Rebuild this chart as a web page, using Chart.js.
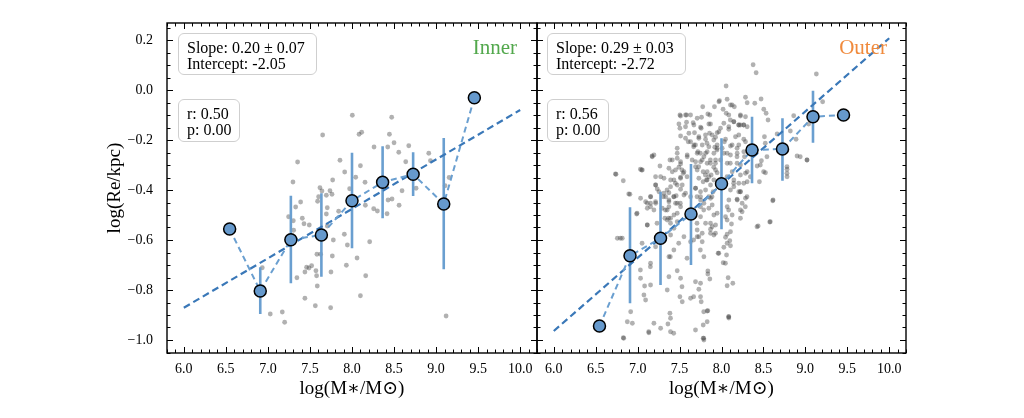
<!DOCTYPE html>
<html>
<head>
<meta charset="utf-8">
<script src="https://cdn.jsdelivr.net/npm/chart.js@4/dist/chart.umd.min.js"></script>
<style>
  html, body { margin:0; padding:0; background:#fff; }
  #wrap { position:relative; width:1024px; height:418px; overflow:hidden; font-family:'Liberation Serif', serif; }
  canvas { position:absolute; left:0; top:0; }
  .box { position:absolute; box-sizing:border-box; border:1px solid #cfcfcf; border-radius:6px; background:rgba(255,255,255,0.85);
         font-size:16px; line-height:16px; padding:6px 0 0 8px; color:#000; white-space:nowrap; z-index:5; }
  .lab { position:absolute; font-size:21px; line-height:24px; z-index:5; white-space:nowrap; }
</style>
</head>
<body>
<div id="wrap">
  <canvas id="cL" width="1024" height="418"></canvas>
  <canvas id="cR" width="1024" height="418"></canvas>
  <div class="box" style="left:178px;top:33px;width:139px;height:42px;">Slope: 0.20 ± 0.07<br>Intercept: -2.05</div>
  <div class="box" style="left:178px;top:99px;width:62px;height:43px;">r: 0.50<br>p: 0.00</div>
  <div class="lab" style="right:507px;top:35px;color:#52a84c;">Inner</div>
  <div class="box" style="left:547px;top:33px;width:139px;height:42px;">Slope: 0.29 ± 0.03<br>Intercept: -2.72</div>
  <div class="box" style="left:547px;top:99px;width:62px;height:43px;">r: 0.56<br>p: 0.00</div>
  <div class="lab" style="right:137px;top:35px;color:#f08a3c;">Outer</div>
</div>
<script>
// ---------- data ----------
const xTicks = [6.0, 6.5, 7.0, 7.5, 8.0, 8.5, 9.0, 9.5, 10.0];
const xTickLabels = ['6.0','6.5','7.0','7.5','8.0','8.5','9.0','9.5','10.0'];
const yTicks = [-1.0, -0.8, -0.6, -0.4, -0.2, 0.0, 0.2];
const yTickLabels = ['\u22121.0','\u22120.8','\u22120.6','\u22120.4','\u22120.2','0.0','0.2'];

const binX = [6.545, 6.909, 7.273, 7.636, 8.0, 8.364, 8.727, 9.091, 9.455];

const innerMed = [-0.556, -0.804, -0.599, -0.580, -0.443, -0.369, -0.337, -0.456, -0.031];
const innerLo  = [null, -0.896, -0.773, -0.747, -0.633, -0.513, -0.424, -0.717, null];
const innerHi  = [null, -0.709, -0.423, -0.413, -0.251, -0.225, -0.249, -0.192, null];

const outerMed = [-0.944, -0.663, -0.593, -0.496, -0.375, -0.240, -0.236, -0.107, -0.100];
const outerLo  = [null, -0.853, -0.780, -0.700, -0.557, -0.373, -0.363, -0.211, null];
const outerHi  = [null, -0.469, -0.407, -0.296, -0.193, -0.107, -0.113, -0.003, null];

const fitX = [6.0, 10.0];
const innerFitY = [-0.871, -0.080];
const outerFitY = [-0.964, 0.207];

const innerScatterX = [8.004,8.472,7.651,8.084,8.115,8.445,8.50,8.262,8.425,8.675,
8.556,8.913,7.353,7.857,7.913,8.10,8.639,8.933,7.298,7.77,
8.044,8.155,7.972,7.619,7.643,7.738,7.762,7.695,7.603,8.595,
8.476,8.429,7.389,7.33,7.706,7.591,8.159,8.56,7.841,8.258,
8.302,8.417,7.695,7.246,7.409,7.302,7.429,7.492,7.306,7.706,
7.909,7.778,7.945,8.21,7.583,7.627,7.766,8.06,7.933,7.46,
7.52,7.488,7.44,7.571,7.579,7.75,7.345,8.163,7.587,8.10,
7.44,7.564,7.746,7.028,7.171,7.199,9.119,6.933,9.107,9.155,
8.762];
const innerScatterY = [-0.101,-0.109,-0.180,-0.177,-0.169,-0.177,-0.211,-0.228,-0.228,-0.223,
-0.249,-0.253,-0.288,-0.281,-0.328,-0.303,-0.287,-0.283,-0.368,-0.36,
-0.349,-0.369,-0.395,-0.391,-0.404,-0.403,-0.417,-0.421,-0.427,-0.403,
-0.436,-0.44,-0.448,-0.468,-0.471,-0.445,-0.461,-0.461,-0.485,-0.475,
-0.484,-0.495,-0.496,-0.507,-0.513,-0.523,-0.535,-0.54,-0.561,-0.544,
-0.577,-0.60,-0.62,-0.607,-0.657,-0.657,-0.664,-0.672,-0.701,-0.709,
-0.703,-0.712,-0.728,-0.723,-0.743,-0.728,-0.751,-0.743,-0.784,-0.823,
-0.833,-0.863,-0.871,-0.896,-0.888,-0.929,-0.904,-0.711,-0.383,-0.35,
-0.393];

const outerScatterX = [
8.055,7.976,8.067,7.916,8.019,7.837,7.504,7.583,7.583,7.662,
7.504,7.758,7.849,7.948,7.678,7.571,7.631,7.69,7.908,7.92,
8.035,7.472,7.174,7.385,7.472,7.512,7.718,7.79,7.829,7.948,
8.067,7.047,7.266,7.413,7.492,7.544,7.69,7.781,7.849,7.908,
7.948,6.742,6.829,7.214,7.234,7.373,7.46,7.154,7.512,7.69,
7.781,7.869,7.9,6.908,7.214,7.305,7.75,7.849,7.512,
7.313,7.373,7.452,7.571,7.631,7.75,7.821,7.877,7.928,7.988,
8.008,7.512,7.472,7.393,7.274,7.591,7.65,7.75,7.829,7.73,
7.809,7.889,7.988,7.71,7.631,8.087,8.087,7.373,7.293,7.154,
7.095,7.035,7.214,
8.377,8.413,9.131,8.286,8.306,8.397,8.472,8.127,8.504,8.532,
8.226,8.286,8.555,8.861,9.206,8.147,8.206,8.266,8.512,8.821,
8.889,8.663,8.206,8.286,8.127,8.186,8.266,8.901,9.02,8.476,
8.425,8.186,8.286,8.452,8.524,8.782,8.782,8.206,8.306,8.147,
8.206,8.286,8.186,8.615,8.246,
6.758,6.817,6.988,7.115,7.154,7.194,7.325,7.392,7.472,7.214,
7.154,7.373,7.432,7.631,7.73,7.869,7.928,7.96,8.067,8.047,
7.035,7.083,7.154,7.373,7.512,7.69,7.472,7.353,7.075,7.095,
7.504,7.532,7.631,7.73,7.758,7.837,7.385,7.392,7.361,6.917,
6.877,6.937,7.194,7.274,7.392,7.134,6.829,7.69,7.79,8.087,
7.79,7.889,7.948,8.127,8.246,8.437,8.575,8.611,8.067,8.119,
7.929,7.869,7.77,7.909,8.067,8.099,7.77,8.028,8.107,7.968,
8.06,7.79,8.02,7.837,7.837,7.861,8.079,8.135,8.067,7.75,
7.829,8.087,7.829,7.782,7.782,7.75,
8.153,7.776,8.105,8.205,8.264,9.039,
7.668,7.748,7.827,7.867,7.946,7.728,7.807,7.529,7.589,7.45,
7.351,7.43,7.509,7.331,7.37,7.231,7.708,7.788,7.887,7.708,
8.105,8.185,8.066,8.145,8.085,7.668,7.748,7.589,7.49,7.39,
7.152,7.033,7.053,6.794,6.735,7.172,7.033,6.894,6.993,7.529,
7.668,7.788,7.788,7.43,6.834,7.132,8.085,8.423,8.582,8.225,
8.304,8.284,8.344,8.502,8.463,8.542,8.522,8.939,9.019,8.781,
8.781,8.781,
7.969,8.107,7.861,7.512,7.571,7.762,8.056,8.226,8.147,8.226,
8.306,7.492,7.571,7.671,7.75,7.869,8.028,8.087,7.969,7.857,
7.611,7.512,7.73,7.81,7.929,8.048,8.167,8.266,7.603,7.671,
7.77,7.849,7.948,8.107,8.206,8.187,8.274,8.107,8.028,7.909,
7.81,7.71,7.591,7.472,7.413,7.512,7.691,7.77,7.869,7.929,
8.068,8.226,7.195,7.056,7.373,7.452,7.552,7.71,7.829,7.929,
8.127,8.226,8.306,7.314,7.433,7.512,7.73,7.829,7.909,8.147,
8.266,7.215,7.393,7.532,7.691,7.81,8.107,8.226,7.254,7.155,
7.334,7.433,7.552,7.75,7.869,8.088,8.187,7.115,7.215,7.373,
7.472,7.75,7.849,8.068,8.226,7.115,7.353,7.433,7.75,7.909,
8.048,8.226,7.353,7.393,7.472,7.81,7.889,7.115,7.433,7.71,
7.869,8.107,7.393,7.552,7.71,8.048];
const outerScatterY = [
0.016,-0.043,-0.037,-0.067,-0.077,-0.096,-0.10,-0.10,-0.129,-0.131,
-0.153,-0.153,-0.136,-0.171,-0.171,-0.193,-0.207,-0.22,-0.2,-0.229,
-0.207,-0.233,-0.267,-0.28,-0.273,-0.296,-0.247,-0.267,-0.247,-0.233,
-0.253,-0.32,-0.304,-0.327,-0.309,-0.333,-0.307,-0.327,-0.347,-0.309,
-0.331,-0.337,-0.363,-0.38,-0.396,-0.411,-0.423,-0.427,-0.397,-0.393,
-0.367,-0.38,-0.407,-0.417,-0.447,-0.427,-0.44,-0.427,-0.467,
-0.413,-0.44,-0.453,-0.413,-0.427,-0.407,-0.36,-0.34,-0.293,-0.28,
-0.233,-0.353,-0.38,-0.36,-0.347,-0.267,-0.28,-0.287,-0.293,-0.187,
-0.18,-0.18,-0.153,-0.113,-0.1,-0.1,-0.147,-0.467,-0.473,-0.467,
-0.447,-0.433,-0.347,
0.101,0.069,0.064,-0.029,-0.051,-0.053,-0.036,-0.06,-0.077,-0.093,
-0.104,-0.107,-0.12,-0.103,-0.047,-0.127,-0.14,-0.14,-0.187,-0.164,
-0.197,-0.176,-0.18,-0.207,-0.22,-0.233,-0.247,-0.264,-0.28,-0.283,
-0.304,-0.293,-0.333,-0.367,-0.331,-0.317,-0.347,-0.373,-0.367,-0.387,
-0.407,-0.433,-0.437,-0.44,-0.453,
-0.593,-0.593,-0.496,-0.54,-0.453,-0.48,-0.513,-0.533,-0.493,-0.627,
-0.693,-0.667,-0.64,-0.607,-0.587,-0.533,-0.573,-0.653,-0.613,-0.693,
-0.753,-0.784,-0.78,-0.747,-0.753,-0.767,-0.723,-0.8,-0.82,-0.84,
-0.827,-0.847,-0.833,-0.797,-0.847,-0.883,-0.893,-0.913,-0.936,-0.887,
-0.927,-0.933,-0.933,-0.953,-0.967,-0.971,-0.991,-0.96,-1.0,-0.907,
-0.453,-0.46,-0.493,-0.5,-0.487,-0.544,-0.528,-0.443,-0.52,-0.536,
-0.54,-0.557,-0.573,-0.58,-0.577,-0.603,-0.607,-0.629,-0.623,-0.653,
-0.66,-0.667,-0.691,-0.724,-0.736,-0.756,-0.751,-0.773,-0.783,-0.773,
-0.884,-0.912,-0.927,-0.94,-0.993,-0.827,
-0.067,-0.067,-0.12,-0.14,-0.14,-0.136,
-0.227,-0.253,-0.213,-0.28,-0.24,-0.307,-0.34,-0.32,-0.347,-0.373,
-0.4,-0.427,-0.453,-0.48,-0.513,-0.533,-0.533,-0.48,-0.427,-0.427,
-0.293,-0.267,-0.347,-0.373,-0.48,-0.6,-0.64,-0.673,-0.613,-0.667,
-0.707,-0.72,-0.613,-0.593,-0.336,-0.264,-0.317,-0.416,-0.493,-0.787,
-0.827,-0.887,-0.993,-0.973,-0.993,-0.967,-0.907,-0.547,-0.527,-0.407,
-0.427,-0.467,-0.347,-0.327,-0.3,-0.267,-0.213,-0.267,-0.28,-0.333,
-0.307,-0.24,
-0.047,-0.06,-0.1,-0.104,-0.1,-0.109,-0.093,-0.1,-0.127,-0.14,
-0.147,-0.136,-0.147,-0.14,-0.149,-0.136,-0.133,-0.157,-0.167,-0.173,
-0.173,-0.184,-0.193,-0.197,-0.189,-0.197,-0.187,-0.197,-0.207,-0.22,
-0.22,-0.227,-0.22,-0.224,-0.22,-0.253,-0.267,-0.26,-0.253,-0.253,
-0.253,-0.253,-0.26,-0.253,-0.28,-0.287,-0.287,-0.28,-0.293,-0.28,
-0.293,-0.3,-0.26,-0.32,-0.313,-0.32,-0.327,-0.32,-0.327,-0.32,
-0.327,-0.34,-0.327,-0.353,-0.36,-0.349,-0.353,-0.36,-0.36,-0.36,
-0.373,-0.38,-0.387,-0.38,-0.393,-0.4,-0.4,-0.407,-0.407,-0.427,
-0.427,-0.427,-0.42,-0.427,-0.433,-0.44,-0.44,-0.453,-0.453,-0.447,
-0.453,-0.467,-0.473,-0.467,-0.48,-0.473,-0.48,-0.5,-0.507,-0.5,
-0.507,-0.513,-0.52,-0.513,-0.527,-0.533,-0.547,-0.54,-0.553,-0.56,
-0.573,-0.567,-0.58,-0.587,-0.587,-0.589];

// ---------- styling ----------
const X_MIN = 5.8, X_MAX = 10.2, Y_MIN = -1.052, Y_MAX = 0.268;
const FONT = "'Liberation Serif', 'DejaVu Serif', serif";
Chart.defaults.font.family = FONT;
Chart.defaults.color = '#000';

function pts(xs, ys) { return xs.map((x, i) => ({x: x, y: ys[i]})); }
function errPts(xs, lo, hi) {
  const out = [];
  xs.forEach((x, i) => {
    if (lo[i] === null || hi[i] === null) return;
    out.push({x: x, y: lo[i]}, {x: x, y: hi[i]}, {x: x, y: null});
  });
  return out;
}

function minorVals(a, b, step) {
  const out = [];
  const n0 = Math.ceil(a / step - 1e-9), n1 = Math.floor(b / step + 1e-9);
  for (let n = n0; n <= n1; n++) out.push(+(n * step).toFixed(4));
  return out;
}

const frameTicks = {
  id: 'frameTicks',
  afterDatasetsDraw(chart) {
    const {ctx, chartArea: {left, right, top, bottom}, scales: {x, y}} = chart;
    ctx.save();
    ctx.strokeStyle = '#000';
    ctx.lineWidth = 1;
    ctx.beginPath();
    const xMin = minorVals(X_MIN, X_MAX, 0.1);
    const yMin = minorVals(Y_MIN, Y_MAX, 0.05);
    xMin.forEach(v => {
      const major = xTicks.some(t => Math.abs(t - v) < 1e-6);
      const L = major ? 6 : 3.5;
      const p = Math.round(x.getPixelForValue(v)) + 0.5;
      ctx.moveTo(p, bottom); ctx.lineTo(p, bottom - L);
      ctx.moveTo(p, top); ctx.lineTo(p, top + L);
    });
    yMin.forEach(v => {
      const major = yTicks.some(t => Math.abs(t - v) < 1e-6);
      const L = major ? 6 : 3.5;
      const p = Math.round(y.getPixelForValue(v)) + 0.5;
      ctx.moveTo(left, p); ctx.lineTo(left + L, p);
      ctx.moveTo(right, p); ctx.lineTo(right - L, p);
    });
    ctx.stroke();
    ctx.lineWidth = 1.4;
    ctx.strokeRect(left, top, right - left, bottom - top);
    ctx.restore();
  }
};

function makeDatasets(scX, scY, lo, hi, med, fitY) {
  return [
    { label: 'galaxies', data: pts(scX, scY), showLine: false, pointRadius: 2.4, pointBorderWidth: 0,
      pointBackgroundColor: 'rgba(70,70,70,0.42)', order: 5 },
    { label: 'errors', data: errPts(binX, lo, hi), showLine: true, spanGaps: false, pointRadius: 0,
      borderColor: '#6a9fd0', borderWidth: 2.6, order: 4 },
    { label: 'fit', data: pts(fitX, fitY), showLine: true, pointRadius: 0,
      borderColor: '#3a78b8', borderWidth: 2.2, borderDash: [7, 4], order: 3 },
    { label: 'binned line', data: pts(binX, med), showLine: true, pointRadius: 0,
      borderColor: '#6a9fd0', borderWidth: 2, borderDash: [6, 4], order: 2 },
    { label: 'binned', data: pts(binX, med), showLine: false, pointRadius: 6, pointBorderWidth: 1.5,
      pointBackgroundColor: '#6699cc', pointBorderColor: '#000', order: 1 }
  ];
}

function xScale() {
  return {
    type: 'linear', min: X_MIN, max: X_MAX,
    grid: { display: false, drawTicks: false }, border: { display: false },
    afterBuildTicks: s => { s.ticks = xTicks.map(v => ({value: v})); },
    afterFit: s => { s.height = 65; },
    ticks: { padding: 8, color: '#000', font: { size: 14 }, maxRotation: 0, autoSkip: false,
             callback: (v, i) => xTickLabels[i] },
    title: { display: true, text: 'log(M\u2217/M\u2299)', color: '#000', font: { size: 19 },
             padding: { top: 0, bottom: 18 } }
  };
}

new Chart(document.getElementById('cL'), {
  type: 'scatter',
  data: { datasets: makeDatasets(innerScatterX, innerScatterY, innerLo, innerHi, innerMed, innerFitY) },
  options: {
    responsive: false, animation: false, devicePixelRatio: 1,
    layout: { padding: { left: 0, right: 487, top: 23, bottom: 0 } },
    plugins: { legend: { display: false }, tooltip: { enabled: false } },
    scales: {
      x: xScale(),
      y: {
        type: 'linear', min: Y_MIN, max: Y_MAX,
        grid: { display: false, drawTicks: false }, border: { display: false },
        afterBuildTicks: s => { s.ticks = yTicks.map(v => ({value: v})); },
        afterFit: s => { s.width = 167; },
        ticks: { padding: 14, color: '#000', font: { size: 14 }, autoSkip: false,
                 callback: (v, i) => yTickLabels[i] },
        title: { display: true, text: 'log(Re/kpc)', color: '#000', font: { size: 19 },
                 padding: { top: 104, bottom: 0 } }
      }
    }
  },
  plugins: [frameTicks]
});

new Chart(document.getElementById('cR'), {
  type: 'scatter',
  data: { datasets: makeDatasets(outerScatterX, outerScatterY, outerLo, outerHi, outerMed, outerFitY) },
  options: {
    responsive: false, animation: false, devicePixelRatio: 1,
    layout: { padding: { left: 537, right: 118, top: 23, bottom: 0 } },
    plugins: { legend: { display: false }, tooltip: { enabled: false } },
    scales: {
      x: xScale(),
      y: { type: 'linear', min: Y_MIN, max: Y_MAX, display: false }
    }
  },
  plugins: [frameTicks]
});
</script>
</body>
</html>
